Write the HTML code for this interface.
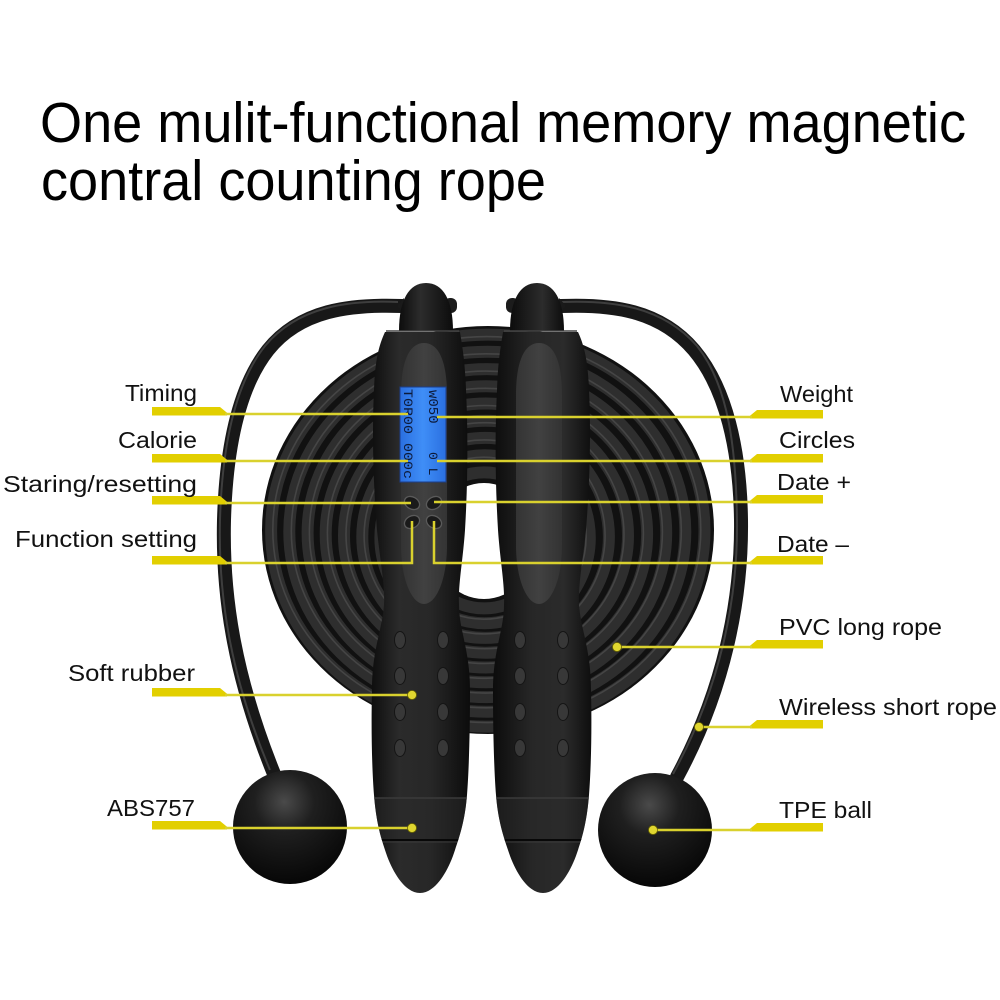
<!DOCTYPE html>
<html><head><meta charset="utf-8"><style>
html,body{margin:0;padding:0;background:#fff;}
svg{display:block;}
</style></head><body>
<svg width="1000" height="1000" viewBox="0 0 1000 1000" xmlns="http://www.w3.org/2000/svg">
<defs>
 <linearGradient id="hg" x1="0" y1="0" x2="1" y2="0">
  <stop offset="0" stop-color="#0e0e0e"/><stop offset="0.28" stop-color="#2b2b2b"/>
  <stop offset="0.6" stop-color="#272727"/><stop offset="1" stop-color="#0c0c0c"/>
 </linearGradient>
 <linearGradient id="cg" x1="0" y1="0" x2="1" y2="0">
  <stop offset="0" stop-color="#0c0c0c"/><stop offset="0.4" stop-color="#2c2c2c"/><stop offset="1" stop-color="#0c0c0c"/>
 </linearGradient>
 <linearGradient id="pg" x1="0" y1="0" x2="1" y2="0">
  <stop offset="0" stop-color="#333"/><stop offset="0.5" stop-color="#414141"/><stop offset="1" stop-color="#343434"/>
 </linearGradient>
 <linearGradient id="lcd" x1="0" y1="0" x2="1" y2="0">
  <stop offset="0" stop-color="#2a6fe0"/><stop offset="0.5" stop-color="#3f8ef7"/><stop offset="1" stop-color="#2a6fe0"/>
 </linearGradient>
 <radialGradient id="bg" cx="0.45" cy="0.28" r="0.75">
  <stop offset="0" stop-color="#4a4a4a"/><stop offset="0.35" stop-color="#1f1f1f"/><stop offset="1" stop-color="#050505"/>
 </radialGradient>
 <clipPath id="hc"><path id="hbody" d="M385,332 C379,345 375,360 374,390 C372,430 373,480 377,530 C380,560 385,585 384,605 C382,630 372,650 372,690 C371,730 372,770 374,795 C376,820 380,835 385,850 C392,872 405,893 420,893 C435,893 448,872 455,850 C460,835 465,820 467,795 C469,770 470,730 470,690 C470,650 459,630 459,605 C458,585 463,560 465,530 C468,480 468,430 466,390 C465,360 462,345 460,332 Z"/></clipPath>
 <g id="handle">
  <path d="M397,306 L404,298 L404,314 Z" fill="#1a1a1a"/>
  <rect x="444" y="298" width="13" height="15" rx="6" fill="#1c1c1c"/>
  <path d="M399,331 C399,300 409,283 426,283 C443,283 453,300 453,331 Z" fill="url(#cg)"/>
  <use href="#hbody" fill="url(#hg)"/>
  <line x1="386" y1="331" x2="459" y2="331" stroke="#444" stroke-width="1.5"/>
  <path d="M424,343 C439,343 447,362 447,395 L447,545 C447,580 436,604 424,604 C412,604 401,580 401,545 L401,395 C401,362 409,343 424,343 Z" fill="url(#pg)"/>
  <g fill="#383838" stroke="#151515" stroke-width="1">
   <ellipse cx="400" cy="640" rx="5.5" ry="8.5"/><ellipse cx="443" cy="640" rx="5.5" ry="8.5"/>
   <ellipse cx="400" cy="676" rx="5.5" ry="8.5"/><ellipse cx="443" cy="676" rx="5.5" ry="8.5"/>
   <ellipse cx="400" cy="712" rx="5.5" ry="8.5"/><ellipse cx="443" cy="712" rx="5.5" ry="8.5"/>
   <ellipse cx="400" cy="748" rx="5.5" ry="8.5"/><ellipse cx="443" cy="748" rx="5.5" ry="8.5"/>
  </g>
  <g clip-path="url(#hc)">
   <rect x="360" y="798" width="120" height="42" fill="#2a2a2a" opacity="0.5"/>
   <line x1="360" y1="798" x2="480" y2="798" stroke="#3a3a3a" stroke-width="1.5"/>
   <line x1="360" y1="840" x2="480" y2="840" stroke="#080808" stroke-width="2"/>
   <line x1="360" y1="842" x2="480" y2="842" stroke="#3a3a3a" stroke-width="1"/>
  </g>
 </g>
</defs>

<!-- Title -->
<text x="40" y="142" font-family="Liberation Sans, Arial, sans-serif" font-size="57" fill="#000" textLength="926" lengthAdjust="spacingAndGlyphs">One mulit-functional memory magnetic</text>
<text x="41" y="200" font-family="Liberation Sans, Arial, sans-serif" font-size="57" fill="#000" textLength="505" lengthAdjust="spacingAndGlyphs">contral counting rope</text>

<!-- Coil -->
<ellipse cx="488" cy="530" rx="226" ry="204" fill="#111"/>
<g fill="none" stroke="#2e2e2e" stroke-width="12">
 <ellipse cx="487.8" cy="530.6" rx="216.7" ry="196"/>
 <ellipse cx="487.3" cy="531.8" rx="198" ry="180"/>
 <ellipse cx="486.9" cy="533.1" rx="179.3" ry="164"/>
 <ellipse cx="486.4" cy="534.3" rx="160.7" ry="148"/>
 <ellipse cx="486" cy="535.5" rx="142" ry="132"/>
 <ellipse cx="485.6" cy="536.7" rx="123.3" ry="116"/>
 <ellipse cx="485.1" cy="537.9" rx="104.7" ry="100"/>
 <ellipse cx="484.7" cy="539.2" rx="86" ry="84"/>
 <ellipse cx="484.2" cy="540.4" rx="67.3" ry="68"/>
</g>
<g fill="none" stroke="#454545" stroke-width="1.6">
 <ellipse cx="486.8" cy="529.6" rx="214" ry="193"/>
 <ellipse cx="486.3" cy="530.8" rx="195" ry="177"/>
 <ellipse cx="485.9" cy="532.1" rx="176.5" ry="161"/>
 <ellipse cx="485.4" cy="533.3" rx="158" ry="145"/>
 <ellipse cx="485" cy="534.5" rx="139" ry="129"/>
 <ellipse cx="484.6" cy="535.7" rx="120.5" ry="113"/>
 <ellipse cx="484.1" cy="536.9" rx="102" ry="97"/>
 <ellipse cx="483.7" cy="538.2" rx="83" ry="81"/>
</g>
<ellipse cx="484" cy="541" rx="52" ry="58" fill="#fff"/>

<!-- Ropes -->
<path d="M402,306 C350,304 300,310 268,350 C238,388 226,450 224,520 C222,600 236,680 274,774" fill="none" stroke="#181818" stroke-width="14" stroke-linecap="round"/>
<path d="M398,302 C350,300 298,306 265,346 C234,385 222,450 220,520 C218,600 232,680 270,770" fill="none" stroke="#3e3e3e" stroke-width="2"/>
<path d="M561,306 C612,304 660,310 694,350 C726,388 740,450 741,520 C742,600 724,690 677,777" fill="none" stroke="#181818" stroke-width="14" stroke-linecap="round"/>
<path d="M561,302 C612,300 662,306 697,346 C729,386 736,450 737,520 C738,600 720,688 673,774" fill="none" stroke="#3e3e3e" stroke-width="2"/>

<!-- Balls -->
<circle cx="290" cy="827" r="57" fill="url(#bg)"/>
<circle cx="655" cy="830" r="57" fill="url(#bg)"/>

<!-- Handles -->
<use href="#handle"/>
<use href="#handle" transform="translate(963,0) scale(-1,1)"/>

<!-- LCD -->
<rect x="400" y="387" width="46" height="95" fill="url(#lcd)" stroke="#1b3d8a" stroke-width="1"/>
<g font-family="Liberation Mono, monospace" fill="#0c1a3a">
 <text transform="translate(429,390) rotate(90)" font-size="14">w050</text>
 <text transform="translate(429,452) rotate(90)" font-size="13">0 L</text>
 <text transform="translate(404,389) rotate(90)" font-size="13" textLength="90" lengthAdjust="spacingAndGlyphs">T0R00 000c</text>
</g>
<!-- Buttons -->
<g fill="#1a1a1a" stroke="#5a5a5a" stroke-width="1.3">
 <ellipse cx="412" cy="503" rx="8" ry="6" transform="rotate(30 412 503)"/>
 <ellipse cx="434" cy="503" rx="8" ry="6" transform="rotate(-30 434 503)"/>
 <ellipse cx="412" cy="522" rx="8" ry="6" transform="rotate(-30 412 522)"/>
 <ellipse cx="434" cy="522" rx="8" ry="6" transform="rotate(30 434 522)"/>
</g>

<!-- Connectors left -->
<g fill="#e2cf00">
 <polygon points="152,407 220,407 227,412.8 227,415.5 152,415.5"/>
 <polygon points="152,454 220,454 227,459.8 227,462.5 152,462.5"/>
 <polygon points="152,496 220,496 227,501.8 227,504.5 152,504.5"/>
 <polygon points="152,556 220,556 227,561.8 227,564.5 152,564.5"/>
 <polygon points="152,688 220,688 227,693.8 227,696.5 152,696.5"/>
 <polygon points="152,821 220,821 227,826.8 227,829.5 152,829.5"/>
</g>
<g fill="none" stroke="#d9d12e" stroke-width="2.5">
 <line x1="225" y1="414" x2="408" y2="414"/>
 <line x1="225" y1="461" x2="408" y2="461"/>
 <line x1="225" y1="503" x2="411" y2="503"/>
 <polyline points="225,563 412,563 412,521"/>
 <line x1="225" y1="695" x2="412" y2="695"/>
 <line x1="225" y1="828" x2="412" y2="828"/>
</g>
<!-- Connectors right -->
<g fill="#e2cf00">
 <polygon points="823,410 757,410 750,415.8 750,418.5 823,418.5"/>
 <polygon points="823,454 757,454 750,459.8 750,462.5 823,462.5"/>
 <polygon points="823,495 757,495 750,500.8 750,503.5 823,503.5"/>
 <polygon points="823,556 757,556 750,561.8 750,564.5 823,564.5"/>
 <polygon points="823,640 757,640 750,645.8 750,648.5 823,648.5"/>
 <polygon points="823,720 757,720 750,725.8 750,728.5 823,728.5"/>
 <polygon points="823,823 757,823 750,828.8 750,831.5 823,831.5"/>
</g>
<g fill="none" stroke="#d9d12e" stroke-width="2.5">
 <line x1="437" y1="417" x2="752" y2="417"/>
 <line x1="437" y1="461" x2="752" y2="461"/>
 <line x1="434" y1="502" x2="752" y2="502"/>
 <polyline points="752,563 434,563 434,521"/>
 <line x1="617" y1="647" x2="752" y2="647"/>
 <line x1="699" y1="727" x2="752" y2="727"/>
 <line x1="653" y1="830" x2="752" y2="830"/>
</g>
<g fill="#e0d630" stroke="#6b6600" stroke-width="0.8">
 <circle cx="412" cy="695" r="4.5"/>
 <circle cx="412" cy="828" r="4.5"/>
 <circle cx="617" cy="647" r="4.5"/>
 <circle cx="699" cy="727" r="4.5"/>
 <circle cx="653" cy="830" r="4.5"/>
</g>

<!-- Labels -->
<g font-family="Liberation Sans, Arial, sans-serif" font-size="23" fill="#111">
 <text x="125" y="401" textLength="72" lengthAdjust="spacingAndGlyphs">Timing</text>
 <text x="118" y="448" textLength="79" lengthAdjust="spacingAndGlyphs">Calorie</text>
 <text x="3" y="492" textLength="194" lengthAdjust="spacingAndGlyphs">Staring/resetting</text>
 <text x="15" y="547" textLength="182" lengthAdjust="spacingAndGlyphs">Function setting</text>
 <text x="68" y="681" textLength="127" lengthAdjust="spacingAndGlyphs">Soft rubber</text>
 <text x="107" y="816" textLength="88" lengthAdjust="spacingAndGlyphs">ABS757</text>
 <text x="780" y="402" textLength="73" lengthAdjust="spacingAndGlyphs">Weight</text>
 <text x="779" y="448" textLength="76" lengthAdjust="spacingAndGlyphs">Circles</text>
 <text x="777" y="490" textLength="74" lengthAdjust="spacingAndGlyphs">Date +</text>
 <text x="777" y="552" textLength="72" lengthAdjust="spacingAndGlyphs">Date –</text>
 <text x="779" y="635" textLength="163" lengthAdjust="spacingAndGlyphs">PVC long rope</text>
 <text x="779" y="715" textLength="218" lengthAdjust="spacingAndGlyphs">Wireless short rope</text>
 <text x="779" y="818" textLength="93" lengthAdjust="spacingAndGlyphs">TPE ball</text>
</g>
</svg>
</body></html>
